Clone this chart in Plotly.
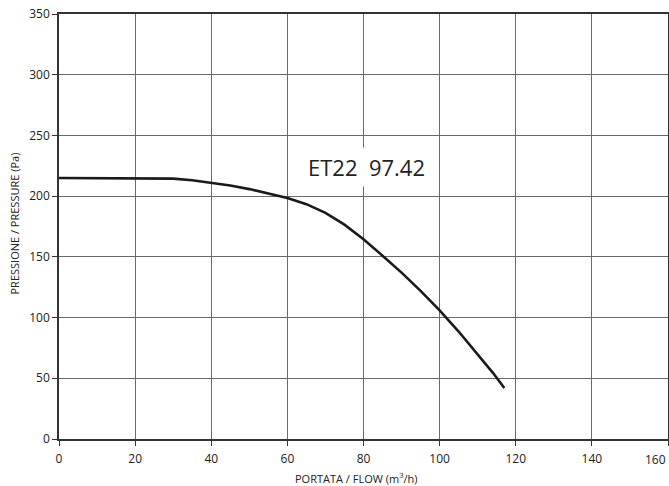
import plotly.graph_objects as go

# Data
flow = [0, 10, 20, 25, 30, 35, 40, 45, 50, 55, 60, 65, 70, 75, 80, 85, 90, 95, 100, 105, 110, 114, 117]
pressure = [215, 215, 215, 215, 214.4, 213.1, 211.2, 208.7, 205.8, 202.4, 198.5, 193.4, 186.3, 176.5, 164.5,
            151, 137, 122, 106, 88.5, 70, 54.5, 42]

x_ticks = [0, 20, 40, 60, 80, 100, 120, 140, 160]
x_tick_labels = ["0", "20", "40", "60", "80", "100", "120", "140", "160"]
y_ticks = [0, 50, 100, 150, 200, 250, 300, 350]
y_tick_labels = ["0", "50", "100", "150", "200", "250", "300", "350"]

curve_label = "ET22\u00a0\u00a097.42"
x_title = "PORTATA / FLOW (m<sup>3</sup>/h)"
y_title = "PRESSIONE / PRESSURE (Pa)"

FONT = "Open Sans"

fig = go.Figure()
fig.add_trace(go.Scatter(
    x=flow, y=pressure, mode="lines",
    line=dict(color="#1a1a1a", width=2.6, shape="linear"),
    hoverinfo="skip", showlegend=False,
))

fig.update_layout(
    width=669, height=486,
    margin=dict(l=59, r=1, t=14, b=47),
    paper_bgcolor="white", plot_bgcolor="white",
    font=dict(family=FONT, size=12, color="#222"),
    showlegend=False,
)

fig.update_xaxes(
    range=[0, 160], autorange=False, automargin=False,
    tickvals=x_ticks,
    ticktext=x_tick_labels[:-1] + [""],
    showgrid=True, gridcolor="#6a6a6a", gridwidth=1,
    showline=True, linecolor="#333", linewidth=1.6, mirror=True,
    ticks="outside", ticklen=5, tickcolor="#333", tickwidth=1,
    ticklabelstandoff=3,
    zeroline=False, tickfont=dict(family=FONT, size=12, color="#222"),
)
fig.update_yaxes(
    range=[0, 350], autorange=False, automargin=False,
    tickvals=y_ticks, ticktext=y_tick_labels,
    showgrid=True, gridcolor="#6a6a6a", gridwidth=1,
    showline=True, linecolor="#333", linewidth=1.6, mirror=True,
    ticks="outside", ticklen=5, tickcolor="#333", tickwidth=1,
    zeroline=False, tickfont=dict(family=FONT, size=12, color="#222"),
)

# last x tick label (kept inside the figure, right-aligned to the edge)
fig.add_annotation(
    x=x_ticks[-1], xref="x", y=0, yref="paper", yshift=-20,
    text=x_tick_labels[-1], showarrow=False, xanchor="right", yanchor="middle",
    font=dict(family=FONT, size=12, color="#222"),
)

# curve label with white box
fig.add_annotation(
    x=80.8, y=224, xref="x", yref="y",
    text=curve_label, showarrow=False, xanchor="center", yanchor="middle",
    font=dict(family=FONT, size=22, color="#222"),
    bgcolor="white", borderpad=4,
)

# axis titles
fig.add_annotation(
    x=0.4877, xref="paper", y=0, yref="paper", yshift=-39,
    text=x_title, showarrow=False, xanchor="center", yanchor="middle",
    font=dict(family=FONT, size=11, color="#222"),
)
fig.add_annotation(
    x=0, xref="paper", xshift=-44, y=0.507, yref="paper",
    text=y_title, showarrow=False, xanchor="center", yanchor="middle",
    textangle=-90, font=dict(family=FONT, size=11, color="#222"),
)

fig.write_html(
    "out.html",
    config={"displayModeBar": False},
    post_script="document.body.style.margin='0';document.body.style.padding='0';",
)
